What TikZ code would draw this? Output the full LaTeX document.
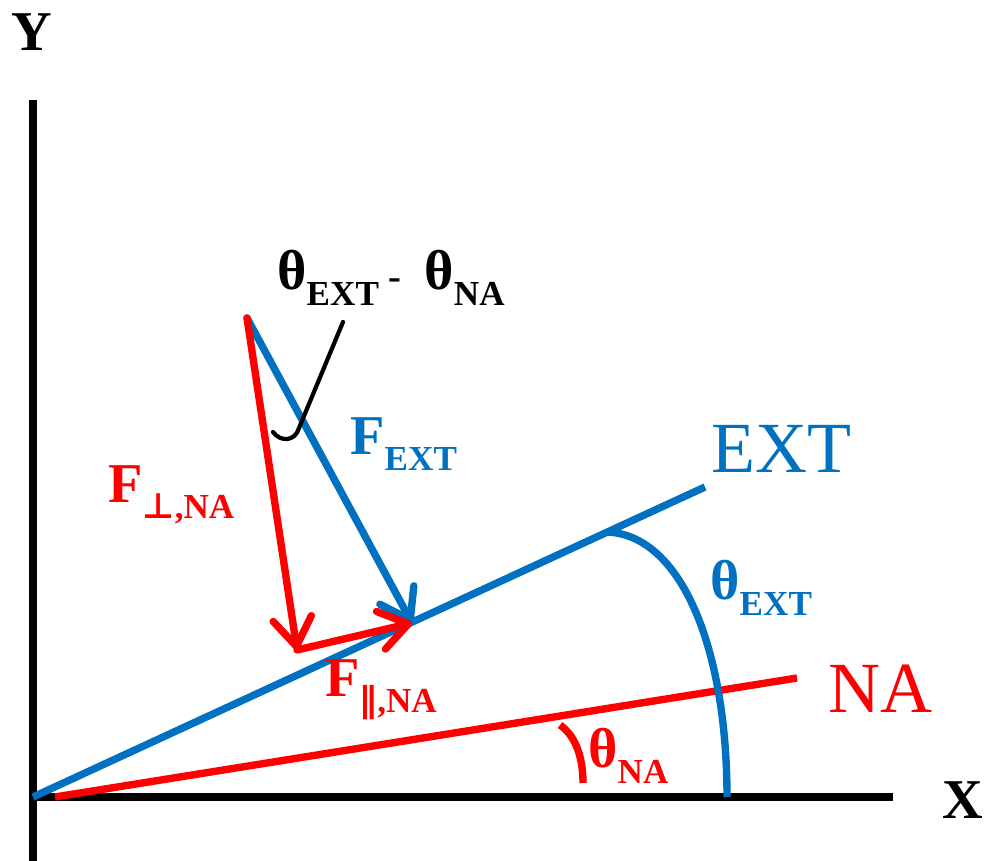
\documentclass[tikz,border=0pt]{standalone}
\usepackage{fontspec}
\setmainfont{Liberation Serif}
\newfontfamily\symfnt{DejaVu Sans}
\usetikzlibrary{arrows.meta}
\definecolor{extblue}{RGB}{0,112,192}
\definecolor{nared}{RGB}{255,0,0}
\newcommand{\bigf}{\fontsize{32}{32}\selectfont\bfseries}
\newcommand{\subf}[1]{\raisebox{-0.28em}{\fontsize{20}{20}\selectfont\bfseries #1}}
\tikzset{
  axis/.style={line width=4pt, black},
  bline/.style={line width=4.2pt, extblue},
  rline/.style={line width=4.2pt, nared},
  vecarrow/.style={-{Straight Barb[length=16pt,width=22pt,line width=4.2pt,round]}, line cap=round},
  lbl/.style={inner sep=0pt, anchor=base west},
}
\begin{document}
\begin{tikzpicture}[x=0.02cm,y=-0.02cm]
\useasboundingbox (0,0) rectangle (985,861);
% axes
\coordinate (O) at (33,797);
\coordinate (ytop) at (33,100);
\coordinate (ybot) at (33,861);
\coordinate (xend) at (893,797);
\draw[axis] (ybot) -- (ytop);
\draw[axis] (O) -- (xend);
\node[font=\bigf] (Ylbl) at (32,32) {Y};
\node[font=\bigf] (Xlbl) at (963,800) {X};
% NA and EXT lines
\coordinate (nastart) at (55,797);
\coordinate (naend) at (797,678);
\coordinate (extend) at (705,487);
\draw[rline] (nastart) -- (naend);
\draw[bline] (O) -- (extend);
\node[lbl, text=extblue, font=\fontsize{41}{41}\selectfont] (EXTlbl) at (711,473) {EXT};
\node[lbl, text=nared, font=\fontsize{41}{41}\selectfont] (NAlbl) at (828,713) {NA};
% angle arcs
\coordinate (a1) at (607,532);
\coordinate (a2) at (727,797);
\draw[bline] (a1) .. controls (682,535) and (727,650) .. (a2);
\coordinate (b1) at (560,725);
\coordinate (b2) at (583,783);
\draw[rline] (b1) .. controls (577,737) and (583,760) .. (b2);
\node[lbl, text=extblue] (thext) at (710,600) {\bigf θ\subf{EXT}};
\node[lbl, text=nared] (thna) at (588,768) {\bigf θ\subf{NA}};
% force vectors
\coordinate (P) at (247,318);
\coordinate (Q) at (297,650);
\coordinate (R) at (412,623);
\draw[bline, vecarrow] (P) -- (R);
\draw[rline, vecarrow] (P) -- (Q);
\draw[rline, vecarrow] (Q) -- (R);
\node[lbl, text=extblue] (fext) at (350,455) {\bigf F\subf{EXT}};
\node[lbl, text=nared] (fperp) at (108,503) {\bigf F\subf{{\symfnt ⊥},NA}};
\node[lbl, text=nared] (fpar) at (325,697) {\bigf F\subf{{\symfnt ∥},NA}};
% difference label and pointer
\node[lbl] (diff) at (277,290) {\bigf θ\subf{EXT}\,{\fontsize{22}{22}\selectfont -}\, θ\subf{NA}};
\coordinate (c1) at (343,322);
\coordinate (c2) at (299,428);
\coordinate (c3) at (273,432);
\draw[line width=2.4pt, line cap=round, line join=round] (c1) -- (c2) .. controls (295,442) and (280,442) .. (c3);
\end{tikzpicture}
\end{document}
